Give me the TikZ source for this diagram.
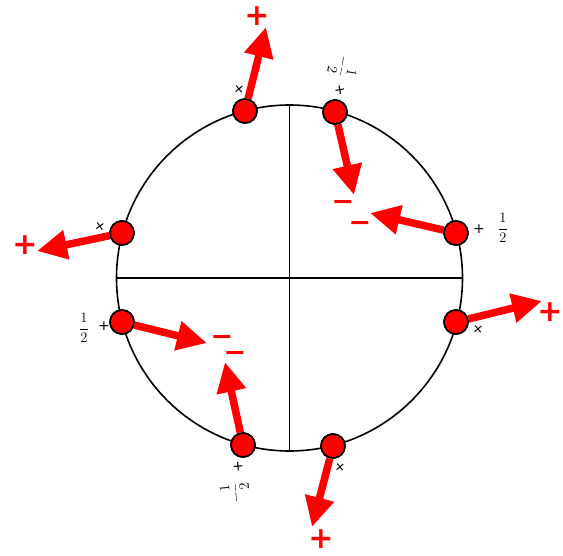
\documentclass[tikz,border=0pt]{standalone}
\usepackage{fontspec}
\newfontfamily\signfont{DejaVu Sans}
\usetikzlibrary{arrows.meta}
\definecolor{sred}{RGB}{255,0,0}
\tikzset{
  ball/.style={circle, draw=black, fill=sred, line width=1.6pt, minimum size=24pt, inner sep=0pt},
  force/.style={draw=sred, line width=7.5pt, -{Triangle[length=30pt,width=28pt]}},
  bigsign/.style={text=sred, font=\signfont\bfseries\fontsize{30}{30}\selectfont, inner sep=0pt},
  minus/.style={text=sred, font=\signfont\bfseries\fontsize{27}{27}\selectfont, inner sep=0pt, text height=2pt, text depth=2pt},
  lab/.style={text=black, font=\signfont\fontsize{14}{14}\selectfont, inner sep=0pt},
  frac/.style={text=black, font=\fontsize{14}{14}\selectfont, inner sep=0pt}
}
\newcommand{\hf}{$\displaystyle\frac{1}{2}$}
\newcommand{\mhf}{$\displaystyle-\frac{1}{2}$}
\newcommand{\msign}{\raisebox{-7.8pt}{−}}
\begin{document}
\begin{tikzpicture}[x=1pt,y=-1pt]
\useasboundingbox (0,0) rectangle (563,555);
\node[circle, draw, line width=1.6pt, minimum size=346pt, inner sep=0pt] (ring) at (289.5,278) {};
\draw[line width=1.3pt] (ring.north) -- (ring.south);
\draw[line width=1.3pt] (ring.west) -- (ring.east);

% tips
\coordinate (t1) at (266,27);
\coordinate (t2) at (354,195);
\coordinate (t3) at (370,213);
\coordinate (t4) at (37,251);
\coordinate (t5) at (207,343);
\coordinate (t6) at (542,301);
\coordinate (t7) at (225,362);
\coordinate (t8) at (312,527);

% balls
\node[ball] (b1) at (245,111) {};
\node[ball] (b2) at (335,112) {};
\node[ball] (b3) at (456,233) {};
\node[ball] (b4) at (122,233) {};
\node[ball] (b5) at (122,322) {};
\node[ball] (b6) at (456,322) {};
\node[ball] (b7) at (243,445) {};
\node[ball] (b8) at (333,446) {};

% arrows
\foreach \i in {1,...,8} { \draw[force] (b\i) -- (t\i); }
\foreach \i in {1,...,8} { \node[ball] at (b\i) {}; }

% big signs
\node[bigsign] (p1) at (257,16) {+};
\node[minus] (m2) at (343,203) {\msign};
\node[minus] (m3) at (360,224) {\msign};
\node[bigsign] (p4) at (25,245) {+};
\node[minus] (m5) at (222,338) {\msign};
\node[minus] (m7) at (235,354) {\msign};
\node[bigsign] (p6) at (550,312) {+};
\node[bigsign] (p8) at (321,539) {+};

% small labels
\node[lab, rotate=40] (l1) at (239,89) {+};
\node[lab, rotate=10] (l2) at (340,90) {+};
\node[frac, rotate=-100] (f2) at (343,66) {\mhf};
\node[lab] (l3) at (479,229) {+};
\node[frac] (f3) at (503,228) {\hf};
\node[lab, rotate=35] (l4) at (100,227) {+};
\node[lab] (l5) at (104,326) {+};
\node[frac] (f5) at (84,328) {\hf};
\node[lab, rotate=40] (l6) at (478,329) {+};
\node[lab, rotate=5] (l7) at (238,467) {+};
\node[frac, rotate=95] (f7) at (235,493) {\mhf};
\node[lab, rotate=40] (l8) at (340,467) {+};
\end{tikzpicture}
\end{document}
